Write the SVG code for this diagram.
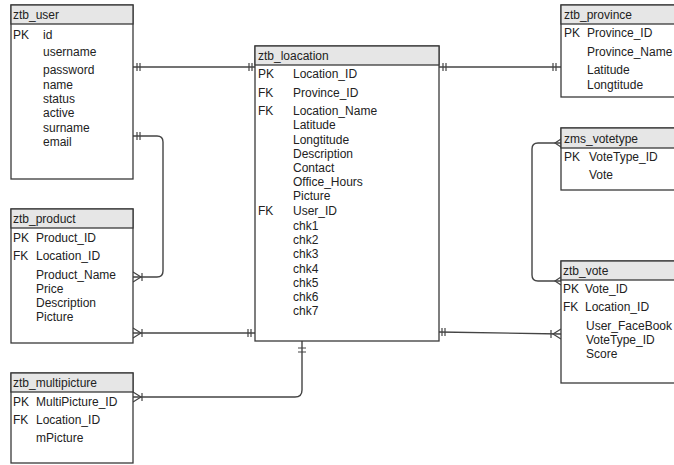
<svg xmlns="http://www.w3.org/2000/svg" width="674" height="465" viewBox="0 0 674 465">
<style>
.box{fill:#fff;stroke:#3a3a3a;stroke-width:1.3}
.hdr{fill:#e6e6e6;stroke:#3a3a3a;stroke-width:1.3}
text{font-family:"Liberation Sans",Arial,sans-serif;font-size:12px;fill:#222}
.ln{fill:none;stroke:#444;stroke-width:1.4}
.mk{fill:none;stroke:#444;stroke-width:1.2}
</style>
<rect width="674" height="465" fill="#fff"/>
<g id="connectors">
  <!-- user - location -->
  <path class="ln" d="M133,67 H255"/>
  <path class="mk" d="M137,63 V71 M140,63 V71 M249,63 V71 M252,63 V71"/>
  <!-- user - product -->
  <path class="ln" d="M133,136 H157 Q163,136 163,142 V271 Q163,277 157,277 H133"/>
  <path class="mk" d="M137,132 V140 M140,132 V140"/>
  <path class="mk" d="M133,272 L141,277 L133,282 M142,273 V281"/>
  <!-- product - location -->
  <path class="ln" d="M133,333 H255"/>
  <path class="mk" d="M133,328 L141,333 L133,338 M142,329 V337 M248,329 V337 M251,329 V337"/>
  <!-- multipicture - location -->
  <path class="ln" d="M133,397 H295 Q302,397 302,390 V341"/>
  <path class="mk" d="M133,392 L141,397 L133,402 M142,393 V401 M298,348 H306 M298,352 H306"/>
  <!-- location - province -->
  <path class="ln" d="M439,67 H561"/>
  <path class="mk" d="M443,63 V71 M446,63 V71 M553,63 V71 M556,63 V71"/>
  <!-- location - vote -->
  <path class="ln" d="M439,332 L561,334"/>
  <path class="mk" d="M442,328 V336 M445,328 V336 M551,330 V338 M561,329 L553,334 L561,339"/>
  <!-- votetype - vote -->
  <path class="ln" d="M561,143 H538 Q532,143 532,149 V275 Q532,281 538,281 H561"/>
  <path class="mk" d="M561,139 L555,143 L561,147 M561,277 L555,281 L561,285"/>
</g>
<g id="ztb_user">
  <rect class="box" x="11" y="5" width="122" height="174"/>
  <rect class="hdr" x="11" y="5" width="122" height="19"/>
  <text x="13" y="19">ztb_user</text>
  <text x="13" y="39">PK</text>
  <text x="43" y="39">id</text>
  <text x="43" y="56">username</text>
  <text x="43" y="74">password</text>
  <text x="43" y="89">name</text>
  <text x="43" y="103">status</text>
  <text x="43" y="117">active</text>
  <text x="43" y="132">surname</text>
  <text x="43" y="146">email</text>
</g>
<g id="ztb_product">
  <rect class="box" x="11" y="209" width="122" height="134"/>
  <rect class="hdr" x="11" y="209" width="122" height="19"/>
  <text x="13" y="223">ztb_product</text>
  <text x="13" y="242">PK</text>
  <text x="36" y="242">Product_ID</text>
  <text x="13" y="260">FK</text>
  <text x="36" y="260">Location_ID</text>
  <text x="36" y="279">Product_Name</text>
  <text x="36" y="293">Price</text>
  <text x="36" y="307">Description</text>
  <text x="36" y="321">Picture</text>
</g>
<g id="ztb_multipicture">
  <rect class="box" x="11" y="373" width="122" height="90"/>
  <rect class="hdr" x="11" y="373" width="122" height="19"/>
  <text x="13" y="387">ztb_multipicture</text>
  <text x="13" y="406">PK</text>
  <text x="36" y="406">MultiPicture_ID</text>
  <text x="13" y="424">FK</text>
  <text x="36" y="424">Location_ID</text>
  <text x="36" y="442">mPicture</text>
</g>
<g id="ztb_loacation">
  <rect class="box" x="255" y="46" width="184" height="295"/>
  <rect class="hdr" x="255" y="46" width="184" height="19"/>
  <text x="258" y="60">ztb_loacation</text>
  <text x="258" y="78">PK</text>
  <text x="293" y="78">Location_ID</text>
  <text x="258" y="97">FK</text>
  <text x="293" y="97">Province_ID</text>
  <text x="258" y="115">FK</text>
  <text x="293" y="115">Location_Name</text>
  <text x="293" y="129">Latitude</text>
  <text x="293" y="144">Longtitude</text>
  <text x="293" y="158">Description</text>
  <text x="293" y="172">Contact</text>
  <text x="293" y="186">Office_Hours</text>
  <text x="293" y="200">Picture</text>
  <text x="258" y="215">FK</text>
  <text x="293" y="215">User_ID</text>
  <text x="293" y="230">chk1</text>
  <text x="293" y="244">chk2</text>
  <text x="293" y="258">chk3</text>
  <text x="293" y="273">chk4</text>
  <text x="293" y="287">chk5</text>
  <text x="293" y="301">chk6</text>
  <text x="293" y="315">chk7</text>
</g>
<g id="ztb_province">
  <rect class="box" x="561" y="5" width="120" height="92"/>
  <rect class="hdr" x="561" y="5" width="120" height="19"/>
  <text x="564" y="19">ztb_province</text>
  <text x="564" y="37">PK</text>
  <text x="587" y="37">Province_ID</text>
  <text x="587" y="56">Province_Name</text>
  <text x="587" y="74">Latitude</text>
  <text x="587" y="89">Longtitude</text>
</g>
<g id="zms_votetype">
  <rect class="box" x="561" y="128" width="120" height="62"/>
  <rect class="hdr" x="561" y="128" width="120" height="20"/>
  <text x="564" y="143">zms_votetype</text>
  <text x="564" y="161">PK</text>
  <text x="589" y="161">VoteType_ID</text>
  <text x="589" y="179">Vote</text>
</g>
<g id="ztb_vote">
  <rect class="box" x="561" y="261" width="120" height="122"/>
  <rect class="hdr" x="561" y="261" width="120" height="19"/>
  <text x="563" y="275">ztb_vote</text>
  <text x="563" y="293">PK</text>
  <text x="585" y="293">Vote_ID</text>
  <text x="563" y="311">FK</text>
  <text x="585" y="311">Location_ID</text>
  <text x="586" y="330">User_FaceBook</text>
  <text x="586" y="344">VoteType_ID</text>
  <text x="586" y="358">Score</text>
</g>
</svg>
